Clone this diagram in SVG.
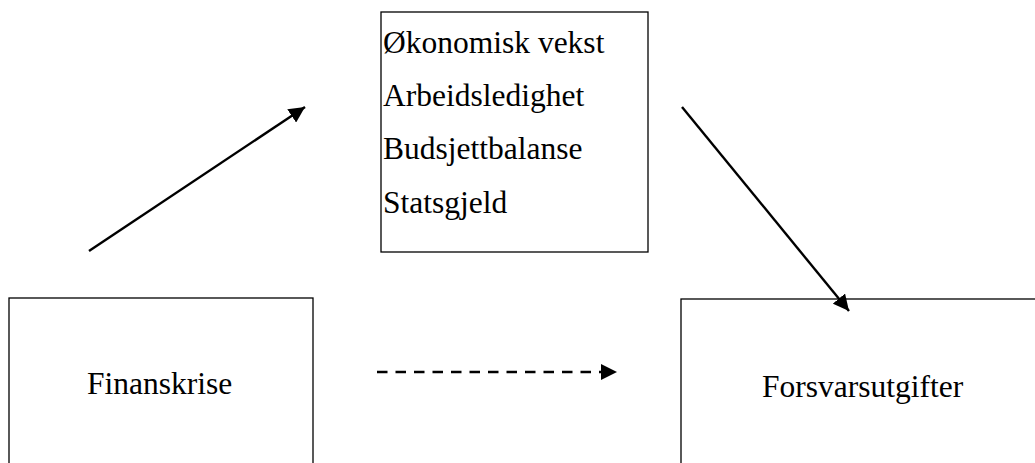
<svg xmlns="http://www.w3.org/2000/svg" width="1035" height="463" viewBox="0 0 1035 463">
<style>
.box{fill:#fff;stroke:#000;stroke-width:1.3}
.t{font-family:"Liberation Serif","Times New Roman",serif;font-size:31.5px;fill:#000}
.c{stroke:#000;stroke-width:2.4;fill:none}
</style>
<defs>
<marker id="ah" viewBox="0 0 10 10" refX="10" refY="5" markerWidth="16" markerHeight="16" markerUnits="userSpaceOnUse" orient="auto">
<path d="M0,0 L10,5 L0,10 Z" fill="#000"/>
</marker>
</defs>
<rect width="1035" height="463" fill="#fff"/>
<g id="node-mid">
<rect class="box" x="381" y="12" width="267" height="240"/>
<text class="t" x="383" y="53">Økonomisk vekst</text>
<text class="t" x="383" y="106">Arbeidsledighet</text>
<text class="t" x="383" y="159">Budsjettbalanse</text>
<text class="t" x="383" y="213">Statsgjeld</text>
</g>
<g id="node-finanskrise">
<rect class="box" x="9" y="298" width="304" height="180"/>
<text class="t" x="87" y="394">Finanskrise</text>
</g>
<g id="node-forsvar">
<rect class="box" x="681" y="299" width="380" height="180"/>
<text class="t" x="762" y="397">Forsvarsutgifter</text>
</g>
<g id="connectors">
<line class="c" x1="89" y1="251" x2="305" y2="107" marker-end="url(#ah)"/>
<line class="c" x1="682" y1="107" x2="849" y2="311" marker-end="url(#ah)"/>
<line class="c" x1="377" y1="372" x2="617" y2="372" stroke-dasharray="10.5 8" marker-end="url(#ah)"/>
</g>
</svg>
